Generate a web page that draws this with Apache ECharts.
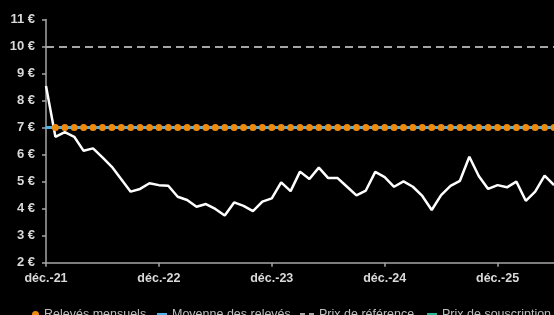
<!DOCTYPE html>
<html>
<head>
<meta charset="utf-8">
<script src="https://cdn.jsdelivr.net/npm/echarts@6/dist/echarts.min.js"></script>
<style>
html,body{margin:0;padding:0;background:#000;}
#chart{width:554px;height:315px;}
</style>
</head>
<body>
<div id="chart"></div>
<script>
// ---- data ----
const monthNames = ['janv.','févr.','mars','avr.','mai','juin','juil.','août','sept.','oct.','nov.','déc.'];
const startYear = 21; // déc.-21
const categories = [];
for (let i = 0; i < 55; i++) {
  const m = (11 + i) % 12;
  const y = startYear + Math.floor((11 + i) / 12);
  categories.push(monthNames[m] + '-' + y);
}
const cours = [8.54,6.66,6.83,6.66,6.14,6.23,5.90,5.55,5.09,4.63,
               4.73,4.94,4.87,4.85,4.44,4.32,4.07,4.17,3.99,3.75,
               4.23,4.10,3.91,4.26,4.38,4.97,4.65,5.37,5.10,5.52,
               5.13,5.13,4.81,4.49,4.67,5.36,5.17,4.81,5.01,4.81,
               4.47,3.95,4.50,4.84,5.03,5.92,5.21,4.73,4.87,4.79,
               5.00,4.29,4.63,5.22,4.87];
const relevesMensuels = [null,7,7,7,7,7,7,7,7,7,
                         7,7,7,7,7,7,7,7,7,7,
                         7,7,7,7,7,7,7,7,7,7,
                         7,7,7,7,7,7,7,7,7,7,
                         7,7,7,7,7,7,7,7,7,7,
                         7,7,7,7,7];
const moyenneReleves = 7;
const prixReference = 10;
const prixSouscription = 7;
const yMin = 2, yMax = 11, yInterval = 1;

const axisColor = '#a6a6a6';
const labelColor = '#d9d9d9';
const FONT = 'Liberation Sans, Arial, sans-serif';
const legendText = {color:'#bfbfbf', fontSize:12.5, fontFamily:FONT};

const chart = echarts.init(document.getElementById('chart'));
chart.setOption({
  backgroundColor:'#000',
  animation:false,
  grid:{left:46, right:-2, top:19.5, bottom:52.3, containLabel:false},
  legend:[
    {left:27, top:303, itemWidth:7, itemHeight:7, itemGap:0, textStyle:legendText,
     data:[{name:'Relevés mensuels', icon:'circle'}]},
    {left:152, top:303, itemWidth:10, itemHeight:3, itemGap:0, textStyle:legendText,
     data:[{name:'Moyenne des relevés', icon:'rect'}]},
    {left:295, top:303, itemWidth:14, itemHeight:3, itemGap:0, textStyle:legendText,
     data:[{name:'Prix de référence', icon:'path://M0,0H5V3H0Z M9,0H14V3H9Z'}]},
    {left:422, top:303, itemWidth:10, itemHeight:3, itemGap:0, textStyle:legendText,
     data:[{name:'Prix de souscription', icon:'rect'}]}
  ],
  xAxis:{
    type:'category', data:categories, boundaryGap:false,
    axisLine:{lineStyle:{color:axisColor, width:1.5}},
    axisTick:{interval:11, length:4, lineStyle:{color:axisColor, width:1.5}},
    axisLabel:{interval:11, color:labelColor, fontWeight:'bold', fontSize:12.5, margin:9, fontFamily:FONT},
    splitLine:{show:false}
  },
  yAxis:{
    type:'value', min:yMin, max:yMax, interval:yInterval,
    axisLine:{show:true, lineStyle:{color:axisColor, width:1.5}},
    axisTick:{show:true, length:4, lineStyle:{color:axisColor, width:1.5}},
    axisLabel:{formatter:'{value} €', color:labelColor, fontWeight:'bold', fontSize:13, margin:11, fontFamily:FONT},
    splitLine:{show:false}
  },
  series:[
    {name:'Prix de référence', type:'line', data:[], symbol:'none',
     lineStyle:{color:'#a6a6a6', width:2, type:[8,5]}, itemStyle:{color:'#a6a6a6'},
     markLine:{silent:true, symbol:'none', label:{show:false},
       lineStyle:{color:'#a6a6a6', width:2, type:[8,5]}, data:[{yAxis:prixReference}]}},
    {name:'Prix de souscription', type:'line', data:[], symbol:'none', z:1,
     lineStyle:{color:'#2bb59a', width:3}, itemStyle:{color:'#2bb59a'},
     markLine:{silent:true, symbol:'none', label:{show:false}, z:1,
       lineStyle:{color:'#2bb59a', width:3, type:'solid'}, data:[{yAxis:prixSouscription}]}},
    {name:'Moyenne des relevés', type:'line', data:[], symbol:'none', z:2,
     lineStyle:{color:'#4fb3e8', width:3}, itemStyle:{color:'#4fb3e8'},
     markLine:{silent:true, symbol:'none', label:{show:false}, z:2,
       lineStyle:{color:'#4fb3e8', width:3, type:'solid'}, data:[{yAxis:moyenneReleves}]}},
    {name:'Cours', type:'line', data:cours, symbol:'none', z:3,
     lineStyle:{color:'#ffffff', width:2.5}, itemStyle:{color:'#ffffff'}},
    {name:'Relevés mensuels', type:'line', data:relevesMensuels, symbol:'circle', symbolSize:7, z:4,
     showAllSymbol:true, lineStyle:{width:0}, itemStyle:{color:'#f08a0c'}}
  ]
});
</script>
</body>
</html>
